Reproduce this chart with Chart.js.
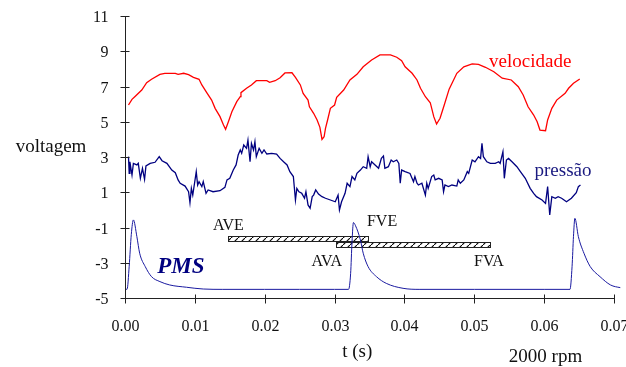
<!DOCTYPE html>
<html>
<head>
<meta charset="utf-8">
<script src="https://cdn.jsdelivr.net/npm/chart.js@4/dist/chart.umd.min.js"></script>
<style>
html,body{margin:0;padding:0;background:#fff;}
#wrap{position:relative;width:626px;height:367px;}
</style>
</head>
<body>
<div id="wrap"><canvas id="c" width="626" height="367"></canvas></div>
<script>
// ---- tick labels ----
const yTicks = [11, 9, 7, 5, 3, 1, -1, -3, -5];
const xTicks = [0.00, 0.01, 0.02, 0.03, 0.04, 0.05, 0.06, 0.07];

// ---- velocidade (red) ----
const tVel = [0.0005,0.0010,0.0014,0.0024,0.0031,0.0038,0.0050,0.0057,0.0072,0.0076,0.0084,0.0091,0.0098,0.0106,0.0110,0.0117,0.0124,0.0129,0.0136,0.0141,0.0144,0.0148,0.0153,0.0160,0.0165,0.0166,0.0174,0.0181,0.0188,0.0203,0.0207,0.0215,0.0222,0.0229,0.0239,0.0244,0.0251,0.0255,0.0262,0.0264,0.0270,0.0275,0.0279,0.0282,0.0285,0.0287,0.0290,0.0294,0.0300,0.0303,0.0313,0.0322,0.0332,0.0341,0.0353,0.0365,0.0380,0.0389,0.0396,0.0401,0.0411,0.0418,0.0423,0.0430,0.0437,0.0442,0.0446,0.0451,0.0457,0.0464,0.0475,0.0485,0.0497,0.0506,0.0516,0.0528,0.0540,0.0553,0.0563,0.0570,0.0577,0.0585,0.0590,0.0594,0.0602,0.0605,0.0611,0.0618,0.0630,0.0635,0.0642,0.0651];
const vel = [5.95,6.27,6.42,6.80,7.22,7.41,7.69,7.75,7.75,7.69,7.75,7.67,7.52,7.41,7.09,6.65,6.23,5.76,5.29,4.82,4.57,5.00,5.57,6.14,6.42,6.65,6.90,7.09,7.33,7.33,7.24,7.33,7.50,7.77,7.78,7.52,7.09,6.61,6.23,5.85,5.48,5.10,4.68,4.00,4.15,4.63,5.10,5.76,5.95,6.39,6.80,7.37,7.69,8.12,8.50,8.79,8.79,8.66,8.47,8.12,7.75,7.37,6.90,6.42,6.08,5.29,4.87,5.20,5.95,6.85,7.75,8.12,8.28,8.26,8.09,7.84,7.47,7.37,6.99,6.52,5.85,5.38,5.00,4.53,4.49,5.10,5.76,6.23,6.61,6.90,7.18,7.43];

// ---- pressão (navy) ----
const tPre = [0.0005,0.0006,0.0007,0.0010,0.0012,0.0017,0.0019,0.0022,0.0025,0.0028,0.0030,0.0036,0.0043,0.0049,0.0053,0.0060,0.0067,0.0072,0.0076,0.0079,0.0086,0.0091,0.0093,0.0095,0.0097,0.0102,0.0104,0.0106,0.0110,0.0112,0.0116,0.0119,0.0126,0.0136,0.0143,0.0146,0.0150,0.0155,0.0159,0.0162,0.0165,0.0167,0.0170,0.0174,0.0176,0.0179,0.0181,0.0184,0.0186,0.0188,0.0192,0.0196,0.0199,0.0203,0.0210,0.0217,0.0222,0.0227,0.0232,0.0236,0.0241,0.0244,0.0246,0.0249,0.0253,0.0257,0.0259,0.0262,0.0265,0.0268,0.0270,0.0273,0.0277,0.0282,0.0287,0.0294,0.0301,0.0305,0.0307,0.0310,0.0315,0.0318,0.0322,0.0325,0.0329,0.0332,0.0337,0.0341,0.0346,0.0348,0.0351,0.0353,0.0358,0.0363,0.0367,0.0370,0.0372,0.0377,0.0381,0.0384,0.0389,0.0392,0.0394,0.0396,0.0401,0.0408,0.0413,0.0415,0.0418,0.0420,0.0425,0.0430,0.0432,0.0434,0.0439,0.0442,0.0444,0.0449,0.0454,0.0456,0.0458,0.0463,0.0468,0.0475,0.0477,0.0480,0.0485,0.0490,0.0492,0.0497,0.0501,0.0506,0.0509,0.0511,0.0513,0.0518,0.0523,0.0530,0.0535,0.0537,0.0541,0.0543,0.0546,0.0549,0.0554,0.0561,0.0566,0.0573,0.0580,0.0585,0.0589,0.0597,0.0602,0.0605,0.0608,0.0611,0.0616,0.0620,0.0625,0.0632,0.0639,0.0646,0.0649,0.0652];
const pre = [3.02,2.07,2.73,1.98,2.64,2.55,2.64,1.79,2.36,1.73,2.49,2.64,2.70,3.02,2.79,2.64,2.26,2.11,1.70,1.51,1.35,1.03,0.41,1.22,0.84,2.17,1.41,1.60,1.32,1.60,0.94,1.13,1.03,1.09,1.28,1.70,1.79,2.26,2.55,3.11,3.40,3.21,3.68,3.49,3.96,2.73,3.77,3.40,3.87,3.02,3.49,3.21,3.40,3.17,3.21,3.17,2.92,2.73,2.55,2.17,1.89,0.56,1.22,1.03,0.94,0.66,1.03,0.28,0.09,0.75,0.84,1.13,0.90,0.75,0.66,0.56,0.46,0.84,0.00,0.46,0.94,1.51,1.32,1.89,1.70,2.07,2.26,2.45,2.36,3.02,2.45,2.73,2.55,2.36,2.92,3.06,2.36,2.45,2.83,2.73,2.83,2.64,1.51,2.26,2.17,2.07,1.60,1.89,1.51,1.41,1.51,0.84,1.51,1.22,1.89,1.98,1.70,1.79,1.70,1.03,1.41,1.32,1.41,1.35,1.70,1.51,1.70,2.17,2.07,2.83,2.73,3.02,2.92,3.77,3.02,2.73,2.64,2.64,2.73,2.64,3.30,1.79,2.83,2.92,2.73,2.45,2.17,1.79,1.22,0.94,0.75,0.56,0.37,1.32,-0.29,0.75,0.66,0.75,0.66,0.46,0.66,0.98,1.32,1.41];

// ---- PMS (navy, thin) ----
const tPms = [0.0000,0.0003,0.0006,0.0009,0.0012,0.0017,0.0021,0.0029,0.0038,0.0050,0.0064,0.0088,0.0112,0.0140,0.0200,0.0250,0.0300,0.0320,0.0323,0.0325,0.0327,0.0330,0.0337,0.0341,0.0348,0.0360,0.0374,0.0398,0.0421,0.0500,0.0600,0.0637,0.0640,0.0642,0.0644,0.0649,0.0657,0.0666,0.0680,0.0695,0.0709,0.0726];
const pms = [-4.51,-4.50,-3.20,-1.40,-0.57,-1.52,-2.46,-3.22,-3.79,-4.07,-4.26,-4.39,-4.49,-4.51,-4.51,-4.51,-4.51,-4.51,-3.60,-1.80,-0.72,-0.90,-1.71,-2.46,-3.22,-3.79,-4.17,-4.45,-4.51,-4.51,-4.51,-4.51,-3.20,-1.50,-0.48,-1.52,-2.46,-3.22,-3.79,-4.26,-4.41,-4.48];

// ---- hatched valve intervals ----
const barStart = [0.0148, 0.0302];
const barEnd   = [0.0348, 0.0523];
const barLevel = [-1.62, -1.95];

// ---- text annotations (data coordinates) ----
const noteText = ['AVE', 'FVE', 'AVA', 'FVA'];
const noteT    = [0.0148, 0.0368, 0.0289, 0.0521];
const noteV    = [-0.92, -0.69, -2.96, -2.96];
const seriesNames = ['velocidade', 'pressão', 'PMS'];
const seriesNameT = [0.0580, 0.0627, 0.0080];
const seriesNameV = [8.39, 2.21, -3.24];

const SERIF = '"Liberation Serif","Times New Roman",Times,serif';
const NAVY = '#000080';

function pts(xs, ys){ return xs.map((x,i)=>({x:x, y:ys[i]})); }

const hatch = (function(){
  const c = document.createElement('canvas'); c.width = 7; c.height = 7;
  const g = c.getContext('2d');
  g.fillStyle = '#fff'; g.fillRect(0,0,7,7);
  g.strokeStyle = '#000'; g.lineWidth = 1.1;
  g.beginPath(); g.moveTo(-1,8); g.lineTo(8,-1); g.stroke();
  return g;
})();

const overlay = {
  id: 'overlay',
  beforeDatasetsDraw(chart){
    const ctx = chart.ctx, xs = chart.scales.x, ys = chart.scales.y;
    const pat = ctx.createPattern(hatch.canvas, 'repeat');
    ctx.save();
    for (let i = 0; i < barStart.length; i++){
      const x0 = Math.round(xs.getPixelForValue(barStart[i])) + 0.5;
      const x1 = Math.round(xs.getPixelForValue(barEnd[i])) + 0.5;
      const yc = ys.getPixelForValue(barLevel[i]);
      const y0 = Math.round(yc - 2.5) + 0.5;
      ctx.fillStyle = pat;
      ctx.fillRect(x0, y0, x1 - x0, 5);
      ctx.strokeStyle = '#222'; ctx.lineWidth = 1;
      ctx.strokeRect(x0, y0, x1 - x0, 5);
    }
    ctx.restore();
  },
  afterDatasetsDraw(chart){
    const ctx = chart.ctx, xs = chart.scales.x, ys = chart.scales.y;
    const ax = Math.round(xs.getPixelForValue(0)) + 0.5;
    const ay = Math.round(ys.getPixelForValue(-5)) + 0.5;
    ctx.save();
    ctx.strokeStyle = '#222'; ctx.lineWidth = 1;
    // y axis
    ctx.beginPath();
    ctx.moveTo(ax, ys.getPixelForValue(yTicks[0]));
    ctx.lineTo(ax, ay);
    ctx.stroke();
    // x axis
    ctx.beginPath();
    ctx.moveTo(ax, ay);
    ctx.lineTo(Math.round(xs.getPixelForValue(xTicks[xTicks.length-1])) + 0.5, ay);
    ctx.stroke();
    ctx.fillStyle = '#111';
    ctx.font = '16px ' + SERIF;
    // y ticks
    ctx.textAlign = 'right'; ctx.textBaseline = 'middle';
    yTicks.forEach(v => {
      const y = Math.round(ys.getPixelForValue(v)) + 0.5;
      ctx.beginPath(); ctx.moveTo(ax - 5, y); ctx.lineTo(ax + 4, y); ctx.stroke();
      ctx.fillText(String(v), ax - 17, y + 1);
    });
    // x ticks
    ctx.textAlign = 'center';
    xTicks.forEach(t => {
      const x = Math.round(xs.getPixelForValue(t)) + 0.5;
      ctx.beginPath(); ctx.moveTo(x, ay - 4); ctx.lineTo(x, ay + 5); ctx.stroke();
      ctx.fillText(t.toFixed(2), x, ay + 28);
    });
    // notes
    ctx.font = '16px ' + SERIF; ctx.fillStyle = '#111';
    noteText.forEach((s,i) => {
      ctx.fillText(s, xs.getPixelForValue(noteT[i]), ys.getPixelForValue(noteV[i]));
    });
    // series names
    ctx.font = '19px ' + SERIF; ctx.fillStyle = '#ff0000';
    ctx.fillText(seriesNames[0], xs.getPixelForValue(seriesNameT[0]), ys.getPixelForValue(seriesNameV[0]));
    ctx.fillStyle = '#1a1a80';
    ctx.fillText(seriesNames[1], xs.getPixelForValue(seriesNameT[1]), ys.getPixelForValue(seriesNameV[1]));
    ctx.font = 'italic bold 23px ' + SERIF; ctx.fillStyle = NAVY;
    ctx.fillText(seriesNames[2], xs.getPixelForValue(seriesNameT[2]), ys.getPixelForValue(seriesNameV[2]));
    // axis titles
    ctx.font = '19px ' + SERIF; ctx.fillStyle = '#111';
    ctx.fillText('voltagem', 51, (ys.getPixelForValue(4) + ys.getPixelForValue(3)) / 2 - 1);
    ctx.fillText('t (s)', (xs.getPixelForValue(0.033) + xs.getPixelForValue(0.0335)) / 2, ay + 54);
    ctx.fillText('2000 rpm', xs.getPixelForValue(0.0602), ay + 59);
    ctx.restore();
  }
};

new Chart(document.getElementById('c'), {
  type: 'line',
  data: {
    datasets: [
      { label: 'velocidade', data: pts(tVel, vel), borderColor: '#ff0000', borderWidth: 1.3, pointRadius: 0, tension: 0, clip: false },
      { label: 'pressão', data: pts(tPre, pre), borderColor: NAVY, borderWidth: 1.3, pointRadius: 0, tension: 0, clip: false },
      { label: 'PMS', data: pts(tPms, pms), borderColor: '#1a1aa0', borderWidth: 1, pointRadius: 0, tension: 0.25, cubicInterpolationMode: 'monotone', clip: false }
    ]
  },
  options: {
    responsive: false,
    animation: false,
    events: [],
    layout: { padding: { left: 125, right: 12, top: 16, bottom: 69 } },
    plugins: { legend: { display: false }, tooltip: { enabled: false } },
    scales: {
      x: { type: 'linear', min: 0, max: 0.07, display: false },
      y: { type: 'linear', min: -5, max: 11, display: false }
    }
  },
  plugins: [overlay]
});
</script>
</body>
</html>
